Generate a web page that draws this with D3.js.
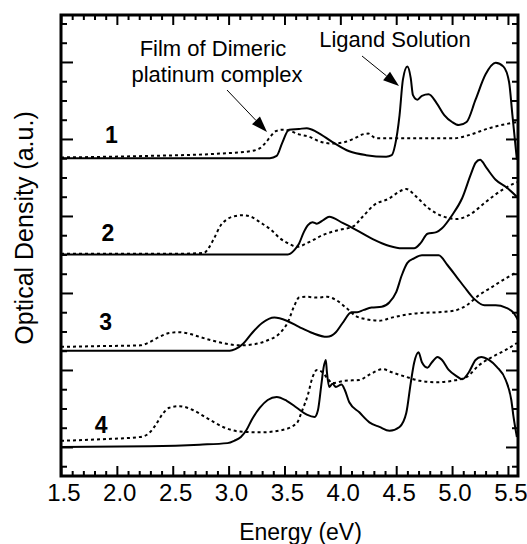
<!DOCTYPE html>
<html>
<head>
<meta charset="utf-8">
<script src="https://d3js.org/d3.v7.min.js"></script>
<style>
    body { margin: 0; background: #fff; }
    text { font-family: "Liberation Sans", Arial, Helvetica, sans-serif; fill: #000; }
</style>
</head>
<body>
<div id="vis"></div>
<script>
// Absorption spectra, [energy (eV), optical density (offset a.u.)]
// solid = ligand solution, dotted = film of dimeric platinum complex
var solid1 = [[1.5, 3.75], [3.37, 3.75], [3.43, 3.78], [3.48, 3.95], [3.54, 4.12], [3.63, 4.13], [3.70, 4.14],
    [3.79, 4.09], [3.93, 3.96], [4.08, 3.84], [4.23, 3.79], [4.41, 3.77], [4.46, 3.79], [4.49, 3.92], [4.53, 4.31],
    [4.56, 4.77], [4.60, 4.94], [4.63, 4.79], [4.65, 4.57], [4.69, 4.51], [4.73, 4.56], [4.79, 4.58], [4.86, 4.47],
    [4.93, 4.31], [5.00, 4.22], [5.06, 4.18], [5.13, 4.22], [5.21, 4.51], [5.30, 4.84], [5.39, 4.99], [5.46, 4.94],
    [5.51, 4.74], [5.54, 4.31], [5.58, 3.73]];
var dotted1 = [[1.5, 3.76], [2.29, 3.78], [2.92, 3.81], [3.19, 3.84], [3.28, 3.88], [3.33, 3.95], [3.38, 4.04],
    [3.42, 4.10], [3.48, 4.12], [3.54, 4.11], [3.63, 4.06], [3.72, 4.03], [3.81, 3.97], [3.93, 3.94], [4.04, 3.96],
    [4.13, 4.01], [4.20, 4.06], [4.25, 4.07], [4.32, 4.01], [4.44, 4.01], [4.71, 4.01], [5.02, 4.01], [5.15, 4.05],
    [5.33, 4.14], [5.58, 4.22]];
var solid2 = [[1.5, 2.50], [3.53, 2.50], [3.59, 2.56], [3.63, 2.64], [3.67, 2.78], [3.71, 2.88], [3.75, 2.92],
    [3.79, 2.90], [3.85, 2.95], [3.90, 2.99], [4.02, 2.91], [4.14, 2.82], [4.29, 2.70], [4.44, 2.61], [4.55, 2.58],
    [4.66, 2.58], [4.72, 2.65], [4.78, 2.77], [4.86, 2.79], [4.91, 2.84], [5.00, 3.01], [5.09, 3.23], [5.17, 3.55],
    [5.21, 3.69], [5.25, 3.73], [5.31, 3.62], [5.39, 3.47], [5.48, 3.38], [5.58, 3.25]];
var dotted2 = [[1.5, 2.51], [2.56, 2.51], [2.78, 2.52], [2.82, 2.58], [2.87, 2.71], [2.93, 2.88], [2.99, 2.96],
    [3.06, 3.00], [3.13, 3.01], [3.20, 2.99], [3.29, 2.91], [3.38, 2.82], [3.46, 2.71], [3.54, 2.64], [3.61, 2.60],
    [3.72, 2.66], [3.84, 2.75], [3.99, 2.82], [4.11, 2.86], [4.20, 2.99], [4.30, 3.14], [4.44, 3.23], [4.51, 3.30],
    [4.59, 3.35], [4.68, 3.25], [4.79, 3.10], [4.91, 3.00], [5.04, 2.96], [5.15, 3.01], [5.30, 3.18], [5.45, 3.34],
    [5.58, 3.44]];
var solid3 = [[1.5, 1.25], [3.01, 1.25], [3.06, 1.27], [3.13, 1.34], [3.21, 1.48], [3.30, 1.61], [3.41, 1.68],
    [3.52, 1.64], [3.63, 1.56], [3.75, 1.48], [3.88, 1.43], [3.96, 1.49], [4.02, 1.61], [4.10, 1.75], [4.15, 1.75],
    [4.21, 1.78], [4.28, 1.81], [4.37, 1.82], [4.44, 1.88], [4.50, 2.01], [4.55, 2.23], [4.60, 2.39], [4.66, 2.45],
    [4.73, 2.49], [4.88, 2.49], [4.96, 2.36], [5.04, 2.21], [5.13, 2.04], [5.20, 1.92], [5.29, 1.84], [5.39, 1.84],
    [5.48, 1.81], [5.55, 1.74], [5.59, 1.65]];
var dotted3 = [[1.5, 1.30], [1.85, 1.31], [2.21, 1.32], [2.29, 1.36], [2.38, 1.43], [2.47, 1.48], [2.56, 1.49],
    [2.65, 1.47], [2.74, 1.43], [2.86, 1.38], [2.98, 1.34], [3.10, 1.32], [3.21, 1.33], [3.34, 1.38], [3.46, 1.48],
    [3.53, 1.62], [3.59, 1.84], [3.63, 1.94], [3.70, 1.95], [3.79, 1.94], [3.88, 1.95], [3.96, 1.91], [4.05, 1.81],
    [4.14, 1.70], [4.23, 1.66], [4.35, 1.64], [4.46, 1.68], [4.71, 1.74], [4.88, 1.75], [5.02, 1.77], [5.13, 1.84],
    [5.24, 1.97], [5.36, 2.08], [5.48, 2.19], [5.58, 2.27]];
var solid4 = [[1.5, 0.00], [2.29, 0.01], [2.74, 0.03], [2.99, 0.05], [3.05, 0.08], [3.11, 0.13], [3.16, 0.22],
    [3.21, 0.36], [3.28, 0.51], [3.35, 0.61], [3.43, 0.65], [3.52, 0.60], [3.61, 0.51], [3.70, 0.42], [3.77, 0.39],
    [3.80, 0.48], [3.83, 0.81], [3.85, 1.03], [3.87, 1.13], [3.88, 0.97], [3.90, 0.78], [3.93, 0.82], [3.96, 0.78],
    [4.01, 0.81], [4.04, 0.74], [4.08, 0.58], [4.17, 0.45], [4.26, 0.32], [4.35, 0.26], [4.44, 0.21], [4.53, 0.26],
    [4.59, 0.44], [4.63, 0.83], [4.66, 1.09], [4.70, 1.23], [4.73, 1.10], [4.78, 1.03], [4.82, 1.10], [4.87, 1.17],
    [4.91, 1.13], [4.97, 1.00], [5.04, 0.92], [5.09, 0.88], [5.15, 0.97], [5.21, 1.13], [5.26, 1.17], [5.33, 1.13],
    [5.40, 1.04], [5.48, 0.87], [5.53, 0.61], [5.55, 0.39], [5.58, 0.13]];
var dotted4 = [[1.5, 0.08], [1.85, 0.10], [2.21, 0.13], [2.28, 0.17], [2.34, 0.27], [2.41, 0.43], [2.47, 0.51],
    [2.56, 0.53], [2.68, 0.48], [2.80, 0.38], [2.95, 0.26], [3.10, 0.20], [3.28, 0.19], [3.48, 0.22], [3.61, 0.31],
    [3.66, 0.48], [3.71, 0.68], [3.75, 0.90], [3.79, 1.00], [3.84, 0.97], [3.88, 0.90], [3.93, 0.83], [4.04, 0.86],
    [4.17, 0.87], [4.26, 0.94], [4.38, 1.01], [4.46, 0.97], [4.59, 0.91], [4.71, 0.86], [4.86, 0.84], [5.00, 0.86],
    [5.13, 0.91], [5.24, 1.06], [5.36, 1.17], [5.48, 1.26], [5.58, 1.35]];

var sampleLabels = ['1', '2', '3', '4'];
var xTicks = [1.5, 2.0, 2.5, 3.0, 3.5, 4.0, 4.5, 5.0, 5.5];

var width = 527;
var height = 544;
var margin = { left: 61, right: 9, top: 15, bottom: 68 };
var drawWidth = width - margin.left - margin.right;
var drawHeight = height - margin.top - margin.bottom;

var svg = d3.select('#vis').append('svg')
    .attr('width', width)
    .attr('height', height);

var xScale = d3.scaleLinear().domain([1.5, 5.59]).range([0, drawWidth]);
var yScale = d3.scaleLinear().domain([-0.377, 5.61]).range([drawHeight, 0]);

var g = svg.append('g')
    .attr('transform', 'translate(' + margin.left + ',' + margin.top + ')');

svg.append('defs').append('clipPath').attr('id', 'plotclip')
    .append('rect').attr('width', drawWidth).attr('height', drawHeight);

// minor/major tick values
var xMinor = d3.range(15, 56).map(function(d) { return d / 10; }).filter(function(d) { return xTicks.indexOf(d) < 0; });
var yMajor = d3.range(0, 6);
var yMinor = d3.range(-1, 23).map(function(d) { return d / 4; }).filter(function(d) { return d % 1 !== 0; });

var drawAxis = function(axis, transform) {
    var a = g.append('g').attr('transform', transform).call(axis);
    a.select('.domain').remove();
    a.selectAll('line').attr('stroke', '#000').attr('stroke-width', 2);
    return a;
};

// bottom
var bottomMajor = drawAxis(d3.axisBottom(xScale).tickValues(xTicks).tickSize(-10).tickPadding(8)
    .tickFormat(d3.format('.1f')), 'translate(0,' + drawHeight + ')');
bottomMajor.selectAll('text').style('font-size', '24px').attr('dx', '0.1em').attr('font-family', null);
drawAxis(d3.axisBottom(xScale).tickValues(xMinor).tickSize(-5).tickFormat(''), 'translate(0,' + drawHeight + ')');
// top
drawAxis(d3.axisTop(xScale).tickValues(xTicks).tickSize(-10).tickFormat(''), 'translate(0,0)');
drawAxis(d3.axisTop(xScale).tickValues(xMinor).tickSize(-5).tickFormat(''), 'translate(0,0)');
// left and right
drawAxis(d3.axisLeft(yScale).tickValues(yMajor).tickSize(-12).tickFormat(''), 'translate(0,0)');
drawAxis(d3.axisLeft(yScale).tickValues(yMinor).tickSize(-6).tickFormat(''), 'translate(0,0)');
drawAxis(d3.axisRight(yScale).tickValues(yMajor).tickSize(-12).tickFormat(''), 'translate(' + drawWidth + ',0)');
drawAxis(d3.axisRight(yScale).tickValues(yMinor).tickSize(-6).tickFormat(''), 'translate(' + drawWidth + ',0)');

// spectra
var line = d3.line()
    .x(function(d) { return xScale(d[0]); })
    .y(function(d) { return yScale(d[1]); })
    .curve(d3.curveMonotoneX);

var curves = g.append('g').attr('clip-path', 'url(#plotclip)');
[solid1, solid2, solid3, solid4].forEach(function(s) {
    curves.append('path').attr('d', line(s))
        .attr('fill', 'none').attr('stroke', '#000').attr('stroke-width', 2);
});
[dotted1, dotted2, dotted3, dotted4].forEach(function(s) {
    curves.append('path').attr('d', line(s))
        .attr('fill', 'none').attr('stroke', '#000').attr('stroke-width', 2)
        .attr('stroke-dasharray', '3,3');
});

// frame
g.append('rect')
    .attr('width', drawWidth).attr('height', drawHeight)
    .attr('fill', 'none').attr('stroke', '#000').attr('stroke-width', 3);

// sample numbers
var labelPos = [[1.95, 3.95], [1.92, 2.68], [1.90, 1.52], [1.86, 0.18]];
g.selectAll('.num').data(sampleLabels).enter().append('text')
    .attr('class', 'num')
    .attr('x', function(d, i) { return xScale(labelPos[i][0]); })
    .attr('y', function(d, i) { return yScale(labelPos[i][1]); })
    .attr('text-anchor', 'middle')
    .style('font-size', '23px').style('font-weight', 'bold')
    .text(function(d) { return d; });

// annotations
var arrowHead = function(x1, y1, x2, y2) {
    var ang = Math.atan2(y2 - y1, x2 - x1);
    var len = 16, half = 5.5;
    var bx = x2 - len * Math.cos(ang), by = y2 - len * Math.sin(ang);
    var px = -Math.sin(ang) * half, py = Math.cos(ang) * half;
    svg.append('line').attr('x1', x1).attr('y1', y1).attr('x2', bx).attr('y2', by)
        .attr('stroke', '#000').attr('stroke-width', 1);
    svg.append('path')
        .attr('d', 'M' + x2 + ',' + y2 + 'L' + (bx + px) + ',' + (by + py) + 'L' + (bx - px) + ',' + (by - py) + 'Z')
        .attr('fill', '#000');
};
arrowHead(227, 90, 267, 132);
arrowHead(362, 56, 399, 86);

var ann = svg.append('text').attr('text-anchor', 'middle').style('font-size', '22px');
ann.append('tspan').attr('x', 213).attr('y', 56).text('Film of Dimeric');
ann.append('tspan').attr('x', 217).attr('y', 82).text('platinum complex');
svg.append('text').attr('x', 395).attr('y', 47).attr('text-anchor', 'middle')
    .style('font-size', '22px').text('Ligand Solution');

// axis titles
svg.append('text')
    .attr('x', margin.left + drawWidth / 2 + 11).attr('y', 540)
    .attr('text-anchor', 'middle').style('font-size', '23px')
    .text('Energy (eV)');
svg.append('text')
    .attr('transform', 'translate(33,' + 228 + ') rotate(-90)')
    .attr('text-anchor', 'middle').style('font-size', '25px')
    .text('Optical Density (a.u.)');
</script>
</body>
</html>
